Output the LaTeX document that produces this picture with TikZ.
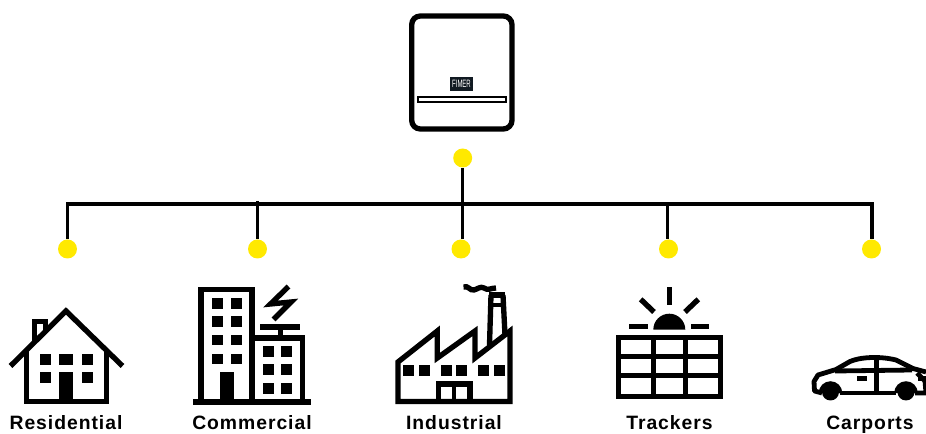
\documentclass[tikz,border=0pt]{standalone}
\usepackage{fontspec}
\setmainfont{Liberation Sans}
\definecolor{fimeryellow}{HTML}{FFE900}
\definecolor{badgedark}{HTML}{111A22}
\newcommand{\bx}[4]{\fill (#1,#2) rectangle (#3,#4);}
\tikzset{
  x=0.75pt,y=-0.75pt,
  wire/.style={line width=2.5pt,black},
  dotnode/.style={circle,fill=fimeryellow,draw=none,minimum size=14.25pt,inner sep=0pt},
  ic/.style={line width=4pt,black,miter limit=10},
  icthin/.style={line width=3.6pt,black,miter limit=10},
  lab/.style={anchor=base,inner sep=0pt,font=\fontsize{14.5pt}{18pt}\selectfont\bfseries\addfontfeature{LetterSpace=5}},
}
\begin{document}
\begin{tikzpicture}
\useasboundingbox (0,0) rectangle (926,434);
% connectors
\node[dotnode] (d0) at (462.7,158) {};
\node[dotnode] (d1) at (67.5,249) {};
\node[dotnode] (d2) at (257.5,249) {};
\node[dotnode] (d3) at (461,249) {};
\node[dotnode] (d4) at (668.5,249) {};
\node[dotnode] (d5) at (871.5,249) {};
\coordinate (b0) at (462.3,204);
\coordinate (b1) at (67.7,204);
\coordinate (b2) at (257.2,201);
\coordinate (b3) at (462.3,204);
\coordinate (b4) at (667.5,204);
\coordinate (b5) at (872,204);
\draw[wire] (b0) -- (b0 |- d0.south);
\draw[wire] (b1 |- d1.north) -- (b1) -- (b5) -- (b5 |- d5.north);
\draw[wire] (b2) -- (b2 |- d2.north);
\draw[wire] (b3) -- (b3 |- d3.north);
\draw[wire] (b4) -- (b4 |- d4.north);
% inverter
\draw[line width=4pt,rounded corners=6.5pt] (411.7,16) rectangle (512,129);
\draw[line width=1.6pt] (417.7,97) rectangle (506.2,101.7);
\node[fill=badgedark,text=white,minimum width=16.8pt,minimum height=10.2pt,inner sep=0pt,font=\fontsize{8pt}{9pt}\selectfont] (badge) at (461.5,84) {\scalebox{0.56}[1]{FIMER}};
% house
\draw[ic] (10.5,366) -- (66,311) -- (122.5,366);
\draw[ic] (26.5,351) -- (26.5,401.5) -- (106.5,401.5) -- (106.5,351);
\draw[ic] (34.5,342) -- (34.5,321.5) -- (45.5,321.5) -- (45.5,331);
\bx{40}{354}{51}{365}\bx{59.3}{354}{73}{365}\bx{82}{354}{93}{365}
\bx{40}{371.7}{51}{382.7}\bx{82}{371.7}{93}{382.7}\bx{59.3}{371.7}{73}{400}
% commercial
\draw[ic] (201,402) -- (201,289.5) -- (252,289.5) -- (252,402);
\draw[ic] (252,338) -- (302.5,338) -- (302.5,402);
\bx{193}{399}{311}{405}
\foreach \yy in {298,316,334.7,353.7}{\bx{212.3}{\yy}{223}{\yy+10.7}\bx{231}{\yy}{242}{\yy+10.7}}
\bx{220}{372}{234}{400}
\foreach \yy in {346,364,383}{\bx{263}{\yy}{273.7}{\yy+10.7}\bx{281.3}{\yy}{292}{\yy+10.7}}
\bx{260}{324.3}{300}{330}\bx{277.7}{330}{282.7}{336}
\draw[ic] (288.5,286.5) -- (270.5,304) -- (291,302) -- (273.5,319.5);
% industrial
\draw[ic] (398,401.5) -- (398,362) -- (437.3,331) -- (437.3,358) -- (475,331) -- (475,358) -- (510,331) -- (510,401.5) -- cycle;
\draw[ic] (491,295) -- (489.5,345);
\draw[ic] (503,295) -- (505,335);
\draw[ic] (489,295) -- (505,295);
\draw[icthin] (490.5,305) -- (503,305);
\draw[ic] (463.5,287) .. controls (468,285) and (470,291) .. (474,290) .. controls (478,289) and (480,286) .. (484,288) .. controls (488,291) and (491,288) .. (496,288);
\foreach \xx in {403.3,419,441,456,478.3,494}{\bx{\xx}{365}{\xx+11}{376}}
\draw[ic] (438.3,401.5) -- (438.3,384) -- (470,384) -- (470,401.5);
\bx{451.7}{384}{456.3}{402}
% trackers
\draw[ic] (618.5,337.5) rectangle (720.3,396.5);
\draw[ic] (653.5,337.5) -- (653.5,396.5) (685.5,337.5) -- (685.5,396.5)
  (618.5,356.5) -- (720.3,356.5) (618.5,375.5) -- (720.3,375.5);
\fill (653.3,329.7) arc[start angle=180,end angle=360,radius=16] -- cycle;
\bx{666.7}{286.7}{672}{305.3}
\bx{629.3}{324.3}{648.3}{329.5}\bx{690.7}{324.3}{709.3}{329.5}
\draw[ic] (640.7,299.3) -- (654,312);
\draw[ic] (698.3,299.3) -- (685,312);
% car
\draw[icthin,line join=round] (822,393) -- (814.5,391) -- (814,381.5) -- (818,375) -- (836,369.5) -- (850,361.5) .. controls (860,357) and (880,356) .. (896,360) -- (913,368.5) -- (926,372);
\draw[icthin] (917,373) -- (925,381) -- (926,393) -- (915,393);
\draw[icthin] (840,393) -- (896,393);
\draw[icthin] (835,371) -- (912,370);
\draw[icthin] (876.7,358) -- (876.7,393);
\fill (856.7,376) rectangle (867.3,380.7);
\fill (918,376) rectangle (926,380.7);
\fill (830.5,392) circle[radius=8.5];
\fill (906,392) circle[radius=8.5];
\draw[line width=2.6pt] (820.5,393) arc[start angle=180,end angle=360,radius=10];
\draw[line width=2.6pt] (896,393) arc[start angle=180,end angle=360,radius=10];
% labels
\node[lab] (l1) at (66,429.5) {Residential};
\node[lab] (l2) at (252,429.5) {Commercial};
\node[lab] (l3) at (454,429.5) {Industrial};
\node[lab] (l4) at (669.5,429.5) {Trackers};
\node[lab] (l5) at (870,429.5) {Carports};
\end{tikzpicture}
\end{document}
